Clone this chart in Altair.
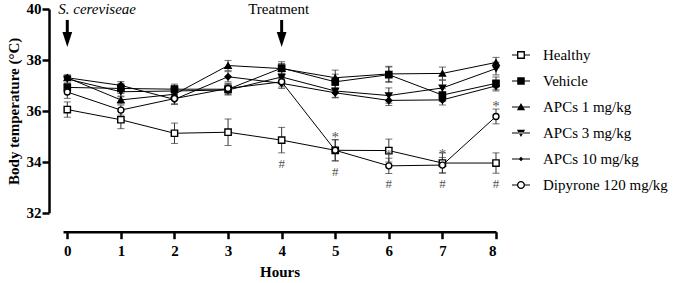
import altair as alt
import pandas as pd

hours = [0, 1, 2, 3, 4, 5, 6, 7, 8]
series_names = ["Healthy", "Vehicle", "APCs 1 mg/kg", "APCs 3 mg/kg",
                "APCs 10 mg/kg", "Dipyrone 120 mg/kg"]

healthy = [36.05, 35.65, 35.12, 35.16, 34.85, 34.45, 34.44, 33.95, 33.95]
healthy_err = [0.30, 0.35, 0.40, 0.52, 0.50, 0.42, 0.45, 0.40, 0.40]
vehicle = [36.92, 36.88, 36.85, 36.85, 37.68, 37.14, 37.42, 36.62, 37.08]
vehicle_err = [0.15, 0.20, 0.20, 0.20, 0.25, 0.30, 0.30, 0.25, 0.25]
apc1 = [37.30, 36.43, 36.65, 37.78, 37.66, 37.30, 37.45, 37.47, 37.90]
apc1_err = [0.10, 0.15, 0.20, 0.20, 0.20, 0.30, 0.30, 0.25, 0.20]
apc3 = [37.25, 36.75, 36.78, 36.82, 37.33, 36.78, 36.60, 36.90, 37.66]
apc3_err = [0.15, 0.20, 0.20, 0.20, 0.20, 0.25, 0.30, 0.30, 0.25]
apc10 = [37.30, 37.00, 36.45, 37.34, 37.08, 36.71, 36.41, 36.43, 36.98]
apc10_err = [0.10, 0.15, 0.20, 0.20, 0.20, 0.20, 0.20, 0.20, 0.20]
dipyrone = [36.74, 36.03, 36.48, 36.88, 37.14, 34.45, 33.84, 33.87, 35.78]
dipyrone_err = [0.25, 0.20, 0.20, 0.20, 0.20, 0.41, 0.30, 0.30, 0.29]

star_hours = [5, 6, 7, 8]
hash_hours = [4, 5, 6, 7, 8]
arrow_hours = [0, 4]
arrow_labels = ["S. cereviseae", "Treatment"]

means = [healthy, vehicle, apc1, apc3, apc10, dipyrone]
errs = [healthy_err, vehicle_err, apc1_err, apc3_err, apc10_err, dipyrone_err]

rows = []
for name, m, e in zip(series_names, means, errs):
    for h, v, s in zip(hours, m, e):
        rows.append({"hour": h, "series": name, "mean": v, "lo": v - s, "hi": v + s})
df = pd.DataFrame(rows)

star_df = pd.DataFrame({"hour": star_hours,
                        "y": [dipyrone[h] + dipyrone_err[h] for h in star_hours],
                        "t": ["*"] * len(star_hours)})
hash_df = pd.DataFrame({"hour": hash_hours,
                        "y": [min(healthy[h] - healthy_err[h], dipyrone[h] - dipyrone_err[h])
                              for h in hash_hours],
                        "t": ["#"] * len(hash_hours)})
arrow_df = pd.DataFrame({"hour": arrow_hours, "top": [39.57, 39.57], "head": [38.80, 38.80],
                         "label": arrow_labels, "ly": [40, 40]})

FONT = "Liberation Serif"

xscale = alt.Scale(domain=[-0.08, 8], nice=False, zero=False)
yscale = alt.Scale(domain=[32, 40], nice=False, zero=False)

AX = dict(grid=False, domain=True, domainColor="black", domainWidth=2.5, tickColor="black",
          tickWidth=2.5, tickSize=7, labelFont=FONT, labelFontSize=15,
          labelFontWeight="bold", labelColor="black", titleFont=FONT, titleFontSize=15,
          titleFontWeight="bold", titleColor="black")
xaxis = alt.Axis(values=hours, format="d", title="Hours", offset=19, labelPadding=5,
                 titlePadding=6, **AX)
yaxis = alt.Axis(values=[32, 34, 36, 38, 40], title="Body temperature (°C)", offset=14,
                 labelPadding=1, titlePadding=5, **AX)

def X(field="hour"):
    return alt.X(f"{field}:Q", scale=xscale, axis=xaxis)

def Y(field):
    return alt.Y(f"{field}:Q", scale=yscale, axis=yaxis)

base = alt.Chart(df)

bars = base.mark_rule(color="#333", strokeWidth=1).encode(x=X(), y=Y("lo"), y2="hi:Q")
cap_lo = base.mark_tick(color="#333", thickness=1, size=7, orient="horizontal").encode(
    x=X(), y=Y("lo"))
cap_hi = base.mark_tick(color="#333", thickness=1, size=7, orient="horizontal").encode(
    x=X(), y=Y("hi"))

lines = base.mark_line(color="black", strokeWidth=1).encode(
    x=X(), y=Y("mean"), detail="series:N", order="hour:Q")

marker_shapes = ["square", "square", "triangle-up", "triangle-down", "diamond", "circle"]
marker_fills = ["white", "black", "black", "black", "black", "white"]
marker_sizes = [40, 36, 42, 42, 18, 42]

points = base.mark_point(filled=True, stroke="black", strokeWidth=1.4, opacity=1).encode(
    x=X(), y=Y("mean"),
    shape=alt.Shape("series:N", scale=alt.Scale(domain=series_names, range=marker_shapes),
                    legend=None),
    fill=alt.Fill("series:N", scale=alt.Scale(domain=series_names, range=marker_fills),
                  legend=None),
    size=alt.Size("series:O", scale=alt.Scale(domain=series_names, range=marker_sizes),
                  legend=None),
)

LINE_FULL = "M-1,-0.06L1,-0.06L1,0.06L-1,0.06Z"
LINE_SPLIT = "M-1,-0.06L-0.44,-0.06L-0.44,0.06L-1,0.06Z M0.44,-0.06L1,-0.06L1,0.06L0.44,0.06Z"
legend_paths = [
    LINE_SPLIT + " M-0.44,-0.44L0.44,-0.44L0.44,0.44L-0.44,0.44Z"
    " M-0.29,-0.29L-0.29,0.29L0.29,0.29L0.29,-0.29Z",
    LINE_FULL + " M-0.42,-0.42L0.42,-0.42L0.42,0.42L-0.42,0.42Z",
    LINE_FULL + " M0,-0.45L0.46,0.35L-0.46,0.35Z",
    LINE_FULL + " M0,0.45L0.46,-0.35L-0.46,-0.35Z",
    LINE_FULL + " M0,-0.26L0.26,0L0,0.26L-0.26,0Z",
    LINE_SPLIT + " M-0.45,0A0.45,0.45 0 1,0 0.45,0A0.45,0.45 0 1,0 -0.45,0Z"
    " M-0.30,0A0.30,0.30 0 1,1 0.30,0A0.30,0.30 0 1,1 -0.30,0Z",
]

legend_layer = base.mark_point(filled=True, color="black", opacity=0, size=324).encode(
    x=X(), y=Y("mean"),
    shape=alt.Shape("series:N", scale=alt.Scale(domain=series_names, range=legend_paths),
                    legend=alt.Legend(title=None, orient="none", legendX=449, legendY=37,
                                      symbolSize=324, symbolOpacity=1, symbolStrokeWidth=0,
                                      symbolFillColor="black", rowPadding=9,
                                      labelOffset=13, labelFont=FONT, labelFontSize=15,
                                      labelColor="black", labelLimit=300, padding=0)),
)

stars = alt.Chart(star_df).mark_text(font=FONT, fontSize=15, color="#555",
                                     baseline="middle", dy=-3).encode(
    x=X(), y=Y("y"), text="t:N")
hashes = alt.Chart(hash_df).mark_text(font=FONT, fontSize=13, color="#555",
                                      baseline="middle", dy=11).encode(
    x=X(), y=Y("y"), text="t:N")

shafts = alt.Chart(arrow_df).mark_rule(color="black", strokeWidth=3).encode(
    x=X(), y=Y("top"), y2="head:Q")
heads = alt.Chart(arrow_df).mark_point(filled=True, color="black", opacity=1, size=225,
                                       shape="M-0.65,-1L0.65,-1L0,1Z").encode(
    x=X(), y=Y("head"))
label_sc = alt.Chart(arrow_df[arrow_df["hour"] == 0]).mark_text(
    font=FONT, fontSize=15, fontStyle="italic", align="left", baseline="middle",
    dx=-9, color="black").encode(x=X(), y=Y("ly"), text="label:N")
label_tr = alt.Chart(arrow_df[arrow_df["hour"] == 4]).mark_text(
    font=FONT, fontSize=15, align="center", baseline="middle", dx=-3, color="black").encode(
    x=X(), y=Y("ly"), text="label:N")

chart = alt.layer(
    bars, cap_lo, cap_hi, lines, points, legend_layer, stars, hashes,
    shafts, heads, label_sc, label_tr
).resolve_scale(shape="independent").properties(
    width=433, height=203.7,
    background="white",
    autosize=alt.AutoSizeParams(type="none"),
    padding={"left": 63, "top": 9, "right": 179, "bottom": 70},
).configure_view(stroke="white", strokeWidth=0, fill="white").configure_axis(
    grid=False, domain=True)

chart.save("out.html", embed_options={"renderer": "svg", "actions": False})
